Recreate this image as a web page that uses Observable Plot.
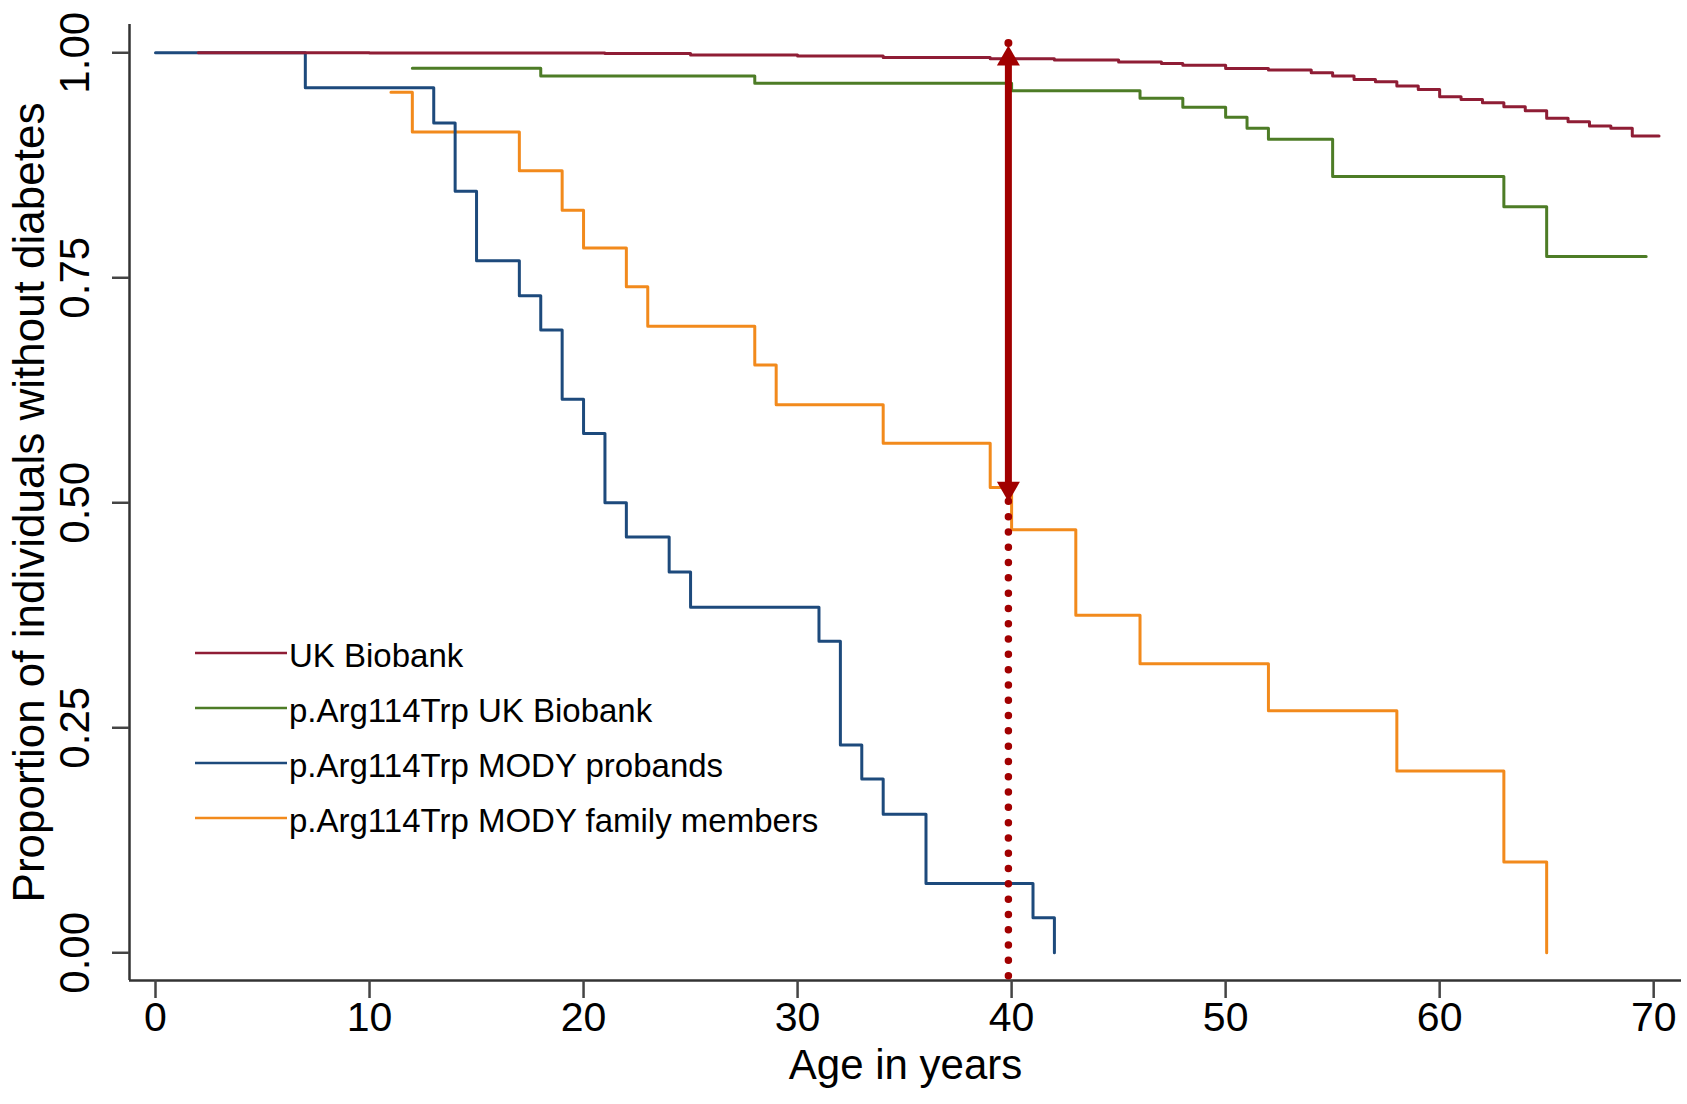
<!DOCTYPE html>
<html>
<head>
<meta charset="utf-8">
<script src="https://cdn.jsdelivr.net/npm/d3@7"></script>
<script src="https://cdn.jsdelivr.net/npm/@observablehq/plot@0.6"></script>
<style>
  html, body { margin: 0; padding: 0; background: #fff; }
  #chart svg { display: block; }
</style>
</head>
<body>
<div id="chart"></div>
<script>
// ---- Data ----
const seriesNames = [
  "UK Biobank",
  "p.Arg114Trp UK Biobank",
  "p.Arg114Trp MODY probands",
  "p.Arg114Trp MODY family members"
];
const seriesColors = ["#8F1D35", "#4D7C26", "#1D4A7C", "#F28A1C"];

// UK Biobank
const ukbAge  = [2, 10, 21, 25, 30, 34, 39, 42, 45, 47, 48, 50, 52, 54, 55, 56, 57, 58, 59, 60, 61, 62, 63, 64, 65, 66, 67, 68, 69, 70.25];
const ukbSurv = [1.000, 0.9998, 0.9993, 0.9974, 0.9963, 0.9948, 0.9933, 0.9919, 0.9897, 0.9882, 0.9860, 0.9826, 0.9808, 0.9778, 0.9741, 0.9704, 0.9678, 0.9630, 0.9593, 0.9512, 0.9482, 0.9445, 0.9401, 0.9356, 0.9271, 0.9234, 0.9186, 0.9160, 0.9075, 0.9075];

// p.Arg114Trp UK Biobank
const ukbVarAge  = [12, 18, 28, 40, 46, 48, 50, 51, 52, 55, 63, 65, 69.65];
const ukbVarSurv = [0.9827, 0.9741, 0.966, 0.9578, 0.9494, 0.9394, 0.9283, 0.916, 0.9038, 0.8624, 0.829, 0.7735, 0.7735];

// p.Arg114Trp MODY probands
const probandAge  = [0, 7, 13, 14, 15, 17, 18, 19, 20, 21, 22, 24, 25, 31, 32, 33, 34, 36, 41, 42];
const probandSurv = [1.000, 0.961, 0.922, 0.846, 0.769, 0.730, 0.692, 0.615, 0.577, 0.500, 0.462, 0.423, 0.384, 0.346, 0.231, 0.193, 0.154, 0.077, 0.039, 0];

// p.Arg114Trp MODY family members
const familyAge  = [11, 12, 17, 19, 20, 22, 23, 28, 29, 34, 39, 40, 43, 46, 52, 58, 63, 65];
const familySurv = [0.956, 0.912, 0.869, 0.825, 0.783, 0.740, 0.696, 0.653, 0.609, 0.566, 0.517, 0.470, 0.375, 0.321, 0.269, 0.202, 0.101, 0];

// Axis ticks and titles
const xTicks = [0, 10, 20, 30, 40, 50, 60, 70];
const yTicks = [0, 0.25, 0.5, 0.75, 1];
const xTitle = "Age in years";
const yTitle = "Proportion of individuals without diabetes";
const xDomain = [-1.215, 71.3];
const yDomain = [-0.0308, 1.0314];

// Annotation arrow at age 40
const arrowAge = 39.85;
const arrowTop = 1.008;
const arrowBottom = 0.501;
const arrowColor = "#A10000";

// ---- Build rows ----
const toRows = (ages, surv, name) => ages.map((a, i) => ({age: a, surv: surv[i], series: name}));
const ukbRows = toRows(ukbAge, ukbSurv, seriesNames[0]);
const ukbVarRows = toRows(ukbVarAge, ukbVarSurv, seriesNames[1]);
const probandRows = toRows(probandAge, probandSurv, seriesNames[2]);
const familyRows = toRows(familyAge, familySurv, seriesNames[3]);

const font = "'Liberation Sans', Arial, Helvetica, sans-serif";

const triUp = {draw(ctx) { ctx.moveTo(0, 0); ctx.lineTo(-11.5, 20); ctx.lineTo(11.5, 20); ctx.closePath(); }};
const triDown = {draw(ctx) { ctx.moveTo(0, 0); ctx.lineTo(-11.5, -20); ctx.lineTo(11.5, -20); ctx.closePath(); }};

const stepLine = (rows, i) => Plot.line(rows, {
  x: "age", y: "surv", stroke: seriesColors[i], strokeWidth: 3, curve: "step-after"
});

const plot = Plot.plot({
  width: 1687,
  height: 1104,
  marginLeft: 129,
  marginRight: 6,
  marginTop: 24,
  marginBottom: 124,
  style: {fontFamily: font, background: "#fff", color: "#000"},
  x: {domain: xDomain},
  y: {domain: yDomain},
  marks: [
    // axis lines
    Plot.ruleX([xDomain[0]], {stroke: "#333", strokeWidth: 2.5}),
    Plot.ruleY([yDomain[0]], {stroke: "#333", strokeWidth: 2.5}),
    // ticks
    Plot.axisX({ticks: xTicks, tickSize: 18, tickFormat: () => "", label: null, stroke: "#444", strokeWidth: 2.5}),
    Plot.axisY({ticks: yTicks, tickSize: 17, tickFormat: () => "", label: null, stroke: "#444", strokeWidth: 2.5}),
    // tick labels
    Plot.text(xTicks, {x: d => d, frameAnchor: "bottom", dy: 50, text: d => String(d), fontSize: 41, fill: "#000", textAnchor: "middle"}),
    Plot.text(yTicks, {y: d => d, frameAnchor: "left", dx: -53.5, rotate: -90, text: d => d.toFixed(2), fontSize: 42, fill: "#000", textAnchor: "middle"}),
    // axis titles
    Plot.text([xTitle], {frameAnchor: "bottom", dy: 98, text: d => d, fontSize: 42, fill: "#000", textAnchor: "middle"}),
    Plot.text([yTitle], {frameAnchor: "left", dx: -100, rotate: -90, text: d => d, fontSize: 44, fill: "#000", textAnchor: "middle"}),
    // curves
    stepLine(familyRows, 3),
    stepLine(probandRows, 2),
    stepLine(ukbVarRows, 1),
    stepLine(ukbRows, 0),
    // dotted guide below arrow
    Plot.ruleX([arrowAge], {x: d => d, y1: () => arrowBottom, y2: () => yDomain[0], stroke: arrowColor, strokeWidth: 7.5, strokeDasharray: "0,15.3", strokeLinecap: "round"}),
    // arrow shaft
    Plot.ruleX([arrowAge], {x: d => d, y1: () => arrowTop, y2: () => arrowBottom, stroke: arrowColor, strokeWidth: 7, insetTop: 17, insetBottom: 17}),
    // arrow heads
    Plot.dot([arrowAge], {x: d => d, y: () => arrowTop, symbol: triUp, r: 10, fill: arrowColor, stroke: "none"}),
    Plot.dot([arrowAge], {x: d => d, y: () => arrowBottom, symbol: triDown, r: 10, fill: arrowColor, stroke: "none"}),
    Plot.dot([arrowAge], {x: d => d, y: () => arrowTop, r: 4, dy: -2.5, fill: arrowColor, stroke: "none"})
  ]
});

// Legend inside the plot area (lower left)
const svg = d3.select(plot);
const lg = svg.append("g").attr("font-family", font).attr("font-size", 33).attr("fill", "#000").attr("text-anchor", "start");
seriesNames.forEach((name, i) => {
  const y = 653 + i * 55;
  lg.append("line").attr("x1", 195).attr("x2", 287).attr("y1", y).attr("y2", y)
    .attr("stroke", seriesColors[i]).attr("stroke-width", 2.5);
  lg.append("text").attr("x", 289).attr("y", y + 2).attr("dy", "0.35em").attr("text-anchor", "start").text(name);
});

document.getElementById("chart").appendChild(plot);
</script>
</body>
</html>
